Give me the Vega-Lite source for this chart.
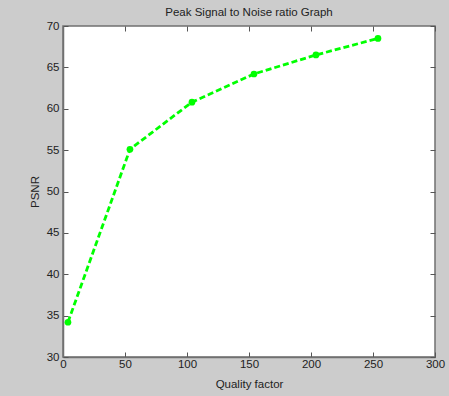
{
  "$schema": "https://vega.github.io/schema/vega-lite/v6.json",
  "width": 372,
  "height": 331,
  "autosize": {"type": "none"},
  "padding": {"left": 63, "top": 26, "right": 14, "bottom": 39},
  "background": "#cccccc",
  "title": {
    "text": "Peak Signal to Noise ratio Graph",
    "fontSize": 11.5,
    "fontWeight": "normal",
    "font": "Liberation Sans",
    "color": "#222222",
    "offset": 2
  },
  "data": {
    "values": [
      {"quality": 4, "psnr": 34.2},
      {"quality": 54, "psnr": 55.1},
      {"quality": 104, "psnr": 60.8},
      {"quality": 154, "psnr": 64.2},
      {"quality": 204, "psnr": 66.5},
      {"quality": 254, "psnr": 68.5}
    ]
  },
  "config": {
    "view": {"fill": "white", "stroke": "#707070", "strokeWidth": 1.5},
    "axis": {
      "grid": false,
      "domainColor": "#707070",
      "domainWidth": 1.5,
      "tickColor": "#555555",
      "tickSize": -5,
      "tickWidth": 1,
      "labelFont": "Liberation Sans",
      "labelFontSize": 11.5,
      "labelColor": "#222222",
      "labelFlush": false,
      "labelOverlap": false,
      "titleFont": "Liberation Sans",
      "titleFontSize": 11.5,
      "titleFontWeight": "normal",
      "titleColor": "#222222"
    }
  },
  "layer": [
    {
      "mark": {"type": "line", "color": "#00ff00", "strokeWidth": 2.8, "strokeDash": [6, 3]},
      "encoding": {
        "x": {
          "field": "quality",
          "type": "quantitative",
          "scale": {"domain": [0, 300], "nice": false, "zero": false},
          "axis": {"orient": "bottom", "title": "Quality factor", "values": [0, 50, 100, 150, 200, 250, 300], "labelPadding": 6, "titlePadding": 9}
        },
        "y": {
          "field": "psnr",
          "type": "quantitative",
          "scale": {"domain": [30, 70], "nice": false, "zero": false},
          "axis": {"orient": "left", "title": "PSNR", "values": [30, 35, 40, 45, 50, 55, 60, 65, 70], "labelPadding": 9, "titlePadding": 6}
        }
      }
    },
    {
      "mark": {"type": "point", "filled": true, "color": "#00ff00", "size": 45, "opacity": 1},
      "encoding": {
        "x": {
          "field": "quality",
          "type": "quantitative",
          "scale": {"domain": [0, 300], "nice": false, "zero": false},
          "axis": {"orient": "top", "title": null, "labels": false, "domain": false, "values": [0, 50, 100, 150, 200, 250, 300]}
        },
        "y": {
          "field": "psnr",
          "type": "quantitative",
          "scale": {"domain": [30, 70], "nice": false, "zero": false},
          "axis": {"orient": "right", "title": null, "labels": false, "domain": false, "values": [30, 35, 40, 45, 50, 55, 60, 65, 70]}
        }
      }
    }
  ],
  "resolve": {"axis": {"x": "independent", "y": "independent"}}
}
